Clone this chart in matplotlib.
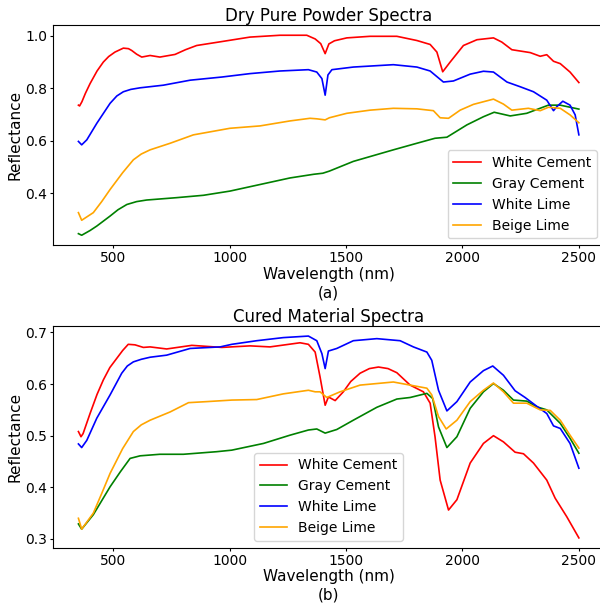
import numpy as np
import matplotlib
matplotlib.use("Agg")
import matplotlib.pyplot as plt

labels = ["White Cement", "Gray Cement", "White Lime", "Beige Lime"]
colors = ["red", "green", "blue", "orange"]

# ---- Dry pure powder spectra ----
wc_dry_wl = [350, 355, 365, 380, 400, 430, 457, 480, 507, 543, 565, 579, 600, 622, 658, 700, 765, 810, 858, 966, 1087, 1216, 1331, 1367, 1391, 1410, 1426, 1450, 1503, 1603, 1718, 1804, 1861, 1890, 1915, 1947, 2004, 2062, 2133, 2169, 2212, 2291, 2334, 2362, 2391, 2420, 2462, 2500]
wc_dry = [0.735, 0.732, 0.748, 0.780, 0.817, 0.865, 0.899, 0.920, 0.937, 0.952, 0.950, 0.943, 0.929, 0.918, 0.924, 0.918, 0.928, 0.946, 0.962, 0.977, 0.994, 1.001, 1.001, 0.987, 0.969, 0.931, 0.968, 0.980, 0.991, 0.997, 0.997, 0.981, 0.966, 0.937, 0.862, 0.899, 0.962, 0.984, 0.991, 0.975, 0.946, 0.935, 0.921, 0.927, 0.902, 0.893, 0.861, 0.821]

gc_dry_wl = [350, 364, 400, 429, 486, 520, 558, 600, 643, 772, 887, 1001, 1130, 1259, 1361, 1400, 1428, 1531, 1703, 1804, 1882, 1933, 2019, 2090, 2136, 2205, 2276, 2369, 2420, 2500]
gc_dry = [0.246, 0.240, 0.258, 0.275, 0.313, 0.337, 0.357, 0.368, 0.374, 0.383, 0.392, 0.408, 0.433, 0.458, 0.472, 0.476, 0.484, 0.521, 0.565, 0.590, 0.609, 0.613, 0.660, 0.691, 0.708, 0.694, 0.704, 0.735, 0.735, 0.720]

wl_dry_wl = [350, 364, 386, 429, 486, 515, 543, 575, 615, 715, 830, 966, 1087, 1216, 1338, 1374, 1396, 1410, 1422, 1439, 1531, 1703, 1804, 1861, 1918, 1961, 2033, 2090, 2133, 2191, 2248, 2305, 2362, 2391, 2405, 2431, 2462, 2484, 2500]
wl_dry = [0.597, 0.584, 0.603, 0.666, 0.742, 0.770, 0.786, 0.795, 0.801, 0.811, 0.830, 0.842, 0.855, 0.865, 0.870, 0.861, 0.836, 0.773, 0.850, 0.870, 0.880, 0.889, 0.880, 0.865, 0.823, 0.827, 0.853, 0.864, 0.861, 0.823, 0.805, 0.786, 0.754, 0.714, 0.729, 0.750, 0.735, 0.698, 0.622]

bl_dry_wl = [350, 364, 414, 450, 486, 540, 586, 620, 658, 744, 844, 1001, 1130, 1259, 1345, 1374, 1410, 1428, 1503, 1603, 1703, 1804, 1875, 1904, 1940, 1990, 2047, 2133, 2176, 2212, 2283, 2334, 2369, 2420, 2462, 2500]
bl_dry = [0.326, 0.297, 0.326, 0.368, 0.414, 0.478, 0.527, 0.549, 0.565, 0.590, 0.622, 0.647, 0.656, 0.675, 0.685, 0.683, 0.679, 0.687, 0.704, 0.716, 0.723, 0.721, 0.714, 0.687, 0.685, 0.716, 0.738, 0.758, 0.739, 0.716, 0.723, 0.714, 0.727, 0.723, 0.698, 0.668]

# ---- Cured material spectra ----
wc_cur_wl = [350, 361, 370, 400, 430, 457, 485, 515, 540, 564, 593, 629, 658, 729, 837, 966, 1087, 1173, 1302, 1338, 1367, 1388, 1410, 1424, 1453, 1488, 1520, 1560, 1600, 1639, 1680, 1718, 1775, 1832, 1861, 1882, 1904, 1940, 1976, 2033, 2090, 2133, 2176, 2226, 2262, 2305, 2362, 2398, 2448, 2500]
wc_cur = [0.508, 0.498, 0.504, 0.543, 0.580, 0.608, 0.632, 0.650, 0.665, 0.677, 0.676, 0.671, 0.672, 0.668, 0.675, 0.671, 0.674, 0.672, 0.680, 0.677, 0.662, 0.614, 0.559, 0.575, 0.568, 0.585, 0.605, 0.621, 0.630, 0.633, 0.630, 0.622, 0.598, 0.585, 0.563, 0.498, 0.414, 0.356, 0.376, 0.447, 0.485, 0.500, 0.488, 0.468, 0.465, 0.447, 0.414, 0.379, 0.343, 0.302]

gc_cur_wl = [350, 364, 414, 450, 486, 530, 572, 615, 700, 801, 944, 1009, 1145, 1259, 1338, 1374, 1410, 1460, 1531, 1632, 1718, 1775, 1847, 1872, 1897, 1933, 1976, 2033, 2090, 2133, 2176, 2219, 2276, 2319, 2362, 2420, 2462, 2500]
gc_cur = [0.329, 0.319, 0.347, 0.374, 0.401, 0.430, 0.456, 0.461, 0.464, 0.464, 0.469, 0.472, 0.485, 0.501, 0.511, 0.513, 0.505, 0.512, 0.530, 0.555, 0.571, 0.574, 0.582, 0.572, 0.517, 0.477, 0.498, 0.553, 0.585, 0.601, 0.588, 0.569, 0.567, 0.556, 0.550, 0.524, 0.495, 0.466]

wl_cur_wl = [350, 364, 386, 429, 486, 536, 560, 586, 620, 658, 729, 830, 959, 1009, 1116, 1230, 1338, 1374, 1396, 1410, 1424, 1460, 1531, 1632, 1732, 1789, 1847, 1868, 1897, 1933, 1976, 2033, 2090, 2130, 2176, 2226, 2269, 2319, 2362, 2391, 2420, 2462, 2500]
wl_cur = [0.484, 0.477, 0.491, 0.534, 0.579, 0.621, 0.635, 0.643, 0.648, 0.652, 0.656, 0.669, 0.672, 0.677, 0.684, 0.690, 0.693, 0.684, 0.659, 0.630, 0.664, 0.669, 0.684, 0.688, 0.684, 0.672, 0.662, 0.646, 0.588, 0.548, 0.566, 0.604, 0.626, 0.635, 0.617, 0.587, 0.574, 0.557, 0.543, 0.519, 0.514, 0.485, 0.437]

bl_cur_wl = [350, 364, 414, 450, 486, 540, 586, 620, 658, 744, 823, 901, 1009, 1116, 1230, 1338, 1367, 1388, 1417, 1474, 1560, 1703, 1775, 1847, 1868, 1897, 1930, 1976, 2033, 2090, 2133, 2176, 2219, 2276, 2334, 2377, 2420, 2462, 2500]
bl_cur = [0.340, 0.319, 0.350, 0.388, 0.427, 0.475, 0.508, 0.521, 0.530, 0.546, 0.564, 0.566, 0.569, 0.570, 0.581, 0.588, 0.585, 0.585, 0.574, 0.585, 0.598, 0.604, 0.598, 0.592, 0.579, 0.537, 0.513, 0.530, 0.566, 0.588, 0.602, 0.585, 0.563, 0.563, 0.550, 0.549, 0.530, 0.501, 0.476]

x_ticks = [500, 1000, 1500, 2000, 2500]

fig = plt.figure(figsize=(6.0, 6.04), dpi=100)
ax1 = fig.add_axes([0.089, 0.5940, 0.9175, 0.3646])
ax2 = fig.add_axes([0.089, 0.0932, 0.9175, 0.3675])

dry = [(wc_dry_wl, wc_dry), (gc_dry_wl, gc_dry), (wl_dry_wl, wl_dry), (bl_dry_wl, bl_dry)]
cur = [(wc_cur_wl, wc_cur), (gc_cur_wl, gc_cur), (wl_cur_wl, wl_cur), (bl_cur_wl, bl_cur)]

for (x, y), lab, c in zip(dry, labels, colors):
    ax1.plot(x, y, color=c, label=lab, lw=1.2)
for (x, y), lab, c in zip(cur, labels, colors):
    ax2.plot(x, y, color=c, label=lab, lw=1.2)

ax1.set_xlim(242.5, 2607.5)
ax2.set_xlim(242.5, 2607.5)
ax1.set_ylim(0.202, 1.040)
ax2.set_ylim(0.283, 0.713)
ax1.set_yticks([0.4, 0.6, 0.8, 1.0])
ax2.set_yticks([0.3, 0.4, 0.5, 0.6, 0.7])

for ax, title, tag, loc in [(ax1, "Dry Pure Powder Spectra", "(a)", "lower right"),
                            (ax2, "Cured Material Spectra", "(b)", "lower center")]:
    ax.set_xticks(x_ticks)
    ax.tick_params(labelsize=10, length=2, pad=2.5)
    ax.set_title(title, fontsize=12, pad=3)
    ax.set_xlabel("Wavelength (nm)\n" + tag, fontsize=11, linespacing=1.3, labelpad=1)
    ax.set_ylabel("Reflectance", fontsize=11, labelpad=2)
    ax.legend(loc=loc, fontsize=10)

fig.savefig("out.png", dpi=100)
